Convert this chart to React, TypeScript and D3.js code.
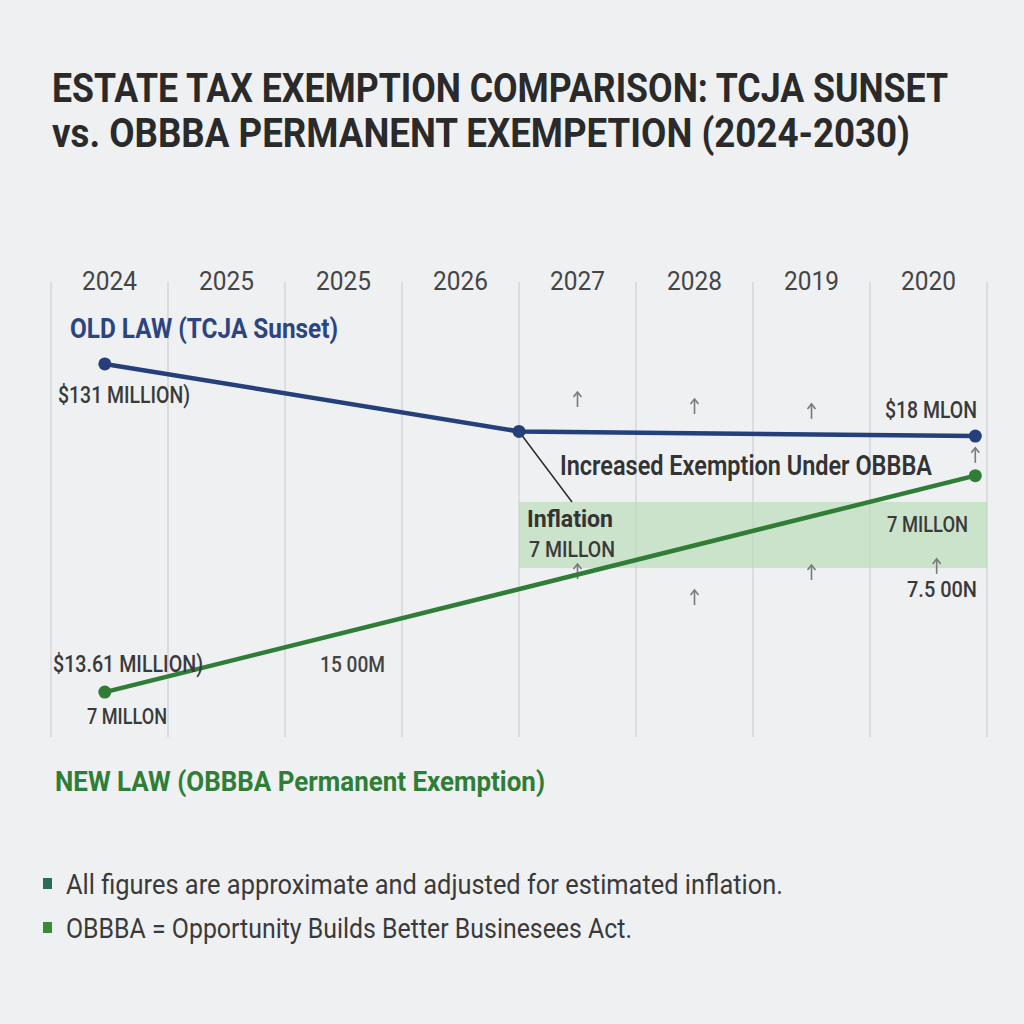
import React from "react";
import { scaleLinear, line } from "d3";

// column labels exactly as printed on the chart
const yearLabels = ["2024", "2025", "2025", "2026", "2027", "2028", "2019", "2020"];

// x positions are in column units (0 = first grid line), values in $ million
const oldLawPos = [0.46, 4, 7.9];
const oldLawValues = [21.1, 18.2, 18.0];
const newLawPos = [0.46, 7.9];
const newLawValues = [7, 16.3];

const inflationBandCols = [4, 8];
const inflationBandValues = [12.33, 15.17];

const arrowCols = [4.5, 5.5, 6.5, 7.9, 4.5, 5.5, 6.5, 7.57];
const arrowValues = [19.55, 19.25, 19.04, 17.15, 12.16, 11.04, 12.12, 12.38];

const footnotes = [
  "All figures are approximate and adjusted for estimated inflation.",
  "OBBBA = Opportunity Builds Better Businesees Act.",
];

const W = 1024;
const H = 1024;
const FONT = "Roboto, 'Noto Sans', sans-serif";
const BLUE = "#253f7a";
const GREEN = "#2f7d36";
const TEXT = "#3a3a3a";

export default function App() {
  const x = scaleLinear().domain([0, 8]).range([51, 987]);
  const y = scaleLinear().domain([0, 22]).range([855, 343]);

  const pathGen = line<[number, number]>()
    .x((d) => x(d[0]))
    .y((d) => y(d[1]));

  const oldPts: [number, number][] = oldLawPos.map((p, i) => [p, oldLawValues[i]]);
  const newPts: [number, number][] = newLawPos.map((p, i) => [p, newLawValues[i]]);

  // condensed look: smaller font stretched vertically, width fixed by textLength
  const label = (
    txt: string,
    lx: number,
    ly: number,
    size: number,
    width: number,
    fill = TEXT,
    weight: number | string = 500,
    anchor: "start" | "middle" | "end" = "start",
    sy = 1
  ) => (
    <text
      key={txt + lx + ly}
      transform={`translate(${lx},${ly}) scale(1,${sy})`}
      fontSize={size}
      fontWeight={weight}
      fill={fill}
      textAnchor={anchor}
      textLength={width}
      lengthAdjust="spacingAndGlyphs"
    >
      {txt}
    </text>
  );

  return (
    <svg
      width={W}
      height={H}
      style={{ position: "absolute", left: 0, top: 0 }}
      fontFamily={FONT}
    >
      <rect width={W} height={H} fill="#eef0f2" />

      {/* title */}
      {label("ESTATE TAX EXEMPTION COMPARISON: TCJA SUNSET", 52, 102, 34, 896, "#2a2a2a", 700, "start", 1.2)}
      {label("vs. OBBBA PERMANENT EXEMPETION (2024-2030)", 52, 147, 34, 858, "#2a2a2a", 700, "start", 1.2)}

      {/* grid */}
      {[0, 1, 2, 3, 4, 5, 6, 7, 8].map((c) => (
        <line key={c} x1={x(c)} x2={x(c)} y1={282} y2={737} stroke="#d3d6d9" strokeWidth={1.5} />
      ))}
      {yearLabels.map((yr, i) =>
        label(yr, x(i + 0.5), 290, 24, 55, "#454545", 400, "middle", 1.1)
      )}

      {/* inflation band */}
      <rect
        x={x(inflationBandCols[0])}
        width={x(inflationBandCols[1]) - x(inflationBandCols[0])}
        y={y(inflationBandValues[1])}
        height={y(inflationBandValues[0]) - y(inflationBandValues[1])}
        fill="#b9dab5"
        opacity={0.65}
      />

      {/* arrows */}
      {arrowCols.map((c, i) => {
        const ax = x(c);
        const ay = y(arrowValues[i]);
        return (
          <g key={i} stroke="#7a7a7a" strokeWidth={1.6} fill="none">
            <line x1={ax} x2={ax} y1={ay - 7} y2={ay + 7} />
            <path d={`M${ax - 4},${ay - 3} L${ax},${ay - 8} L${ax + 4},${ay - 3}`} />
          </g>
        );
      })}

      {/* inflation connector */}
      <line x1={x(oldLawPos[1])} y1={y(oldLawValues[1])} x2={572} y2={502} stroke="#2a2a2a" strokeWidth={1.5} />

      {/* lines */}
      <path d={pathGen(oldPts) || ""} fill="none" stroke={BLUE} strokeWidth={4.5} />
      {oldPts.map((d, i) => (
        <circle key={i} cx={x(d[0])} cy={y(d[1])} r={6.5} fill={BLUE} />
      ))}
      <path d={pathGen(newPts) || ""} fill="none" stroke={GREEN} strokeWidth={4.5} />
      {newPts.map((d, i) => (
        <circle key={i} cx={x(d[0])} cy={y(d[1])} r={6.5} fill={GREEN} />
      ))}

      {/* annotations */}
      {label("OLD LAW (TCJA Sunset)", 70, 338, 25, 268, "#2c4480", 700, "start", 1.1)}
      {label("$131 MILLION)", 58, 403, 21, 132, TEXT, 500, "start", 1.1)}
      {label("$18 MLON", 977, 418, 21, 92, TEXT, 500, "end", 1.1)}
      {label("Increased Exemption Under OBBBA", 560, 475, 25, 372, "#333", 600, "start", 1.1)}
      {label("Inflation", 527, 527, 22, 86, "#333", 700, "start", 1.1)}
      {label("7 MILLON", 529, 557, 20, 86, TEXT, 500, "start", 1.1)}
      {label("7 MILLON", 887, 532, 20, 81, TEXT, 500, "start", 1.1)}
      {label("7.5 00N", 907, 597, 20, 70, TEXT, 500, "start", 1.1)}
      {label("$13.61 MILLION)", 53, 672, 21, 150, TEXT, 500, "start", 1.1)}
      {label("15 00M", 320, 672, 20, 65, "#444", 500, "start", 1.1)}
      {label("7 MILLON", 87, 724, 20, 80, TEXT, 500, "start", 1.1)}
      {label("NEW LAW (OBBBA Permanent Exemption)", 55, 791, 25, 490, GREEN, 700, "start", 1.1)}

      {/* footnotes */}
      {footnotes.map((f, i) => (
        <g key={f}>
          <rect x={43} y={878 + i * 44} width={9} height={11} fill={i === 0 ? "#2b6b58" : "#3b8a3a"} />
          {label(f, 66, 894 + i * 44, 24, i === 0 ? 717 : 566, TEXT, 400, "start", 1.15)}
        </g>
      ))}
    </svg>
  );
}
